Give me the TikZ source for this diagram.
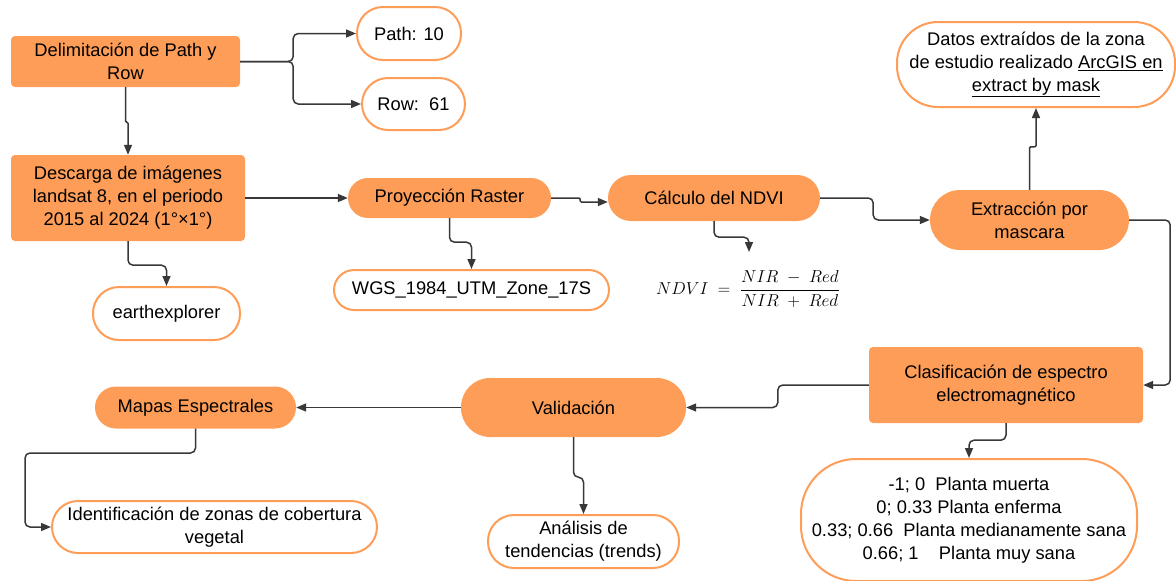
\documentclass[tikz,border=0pt]{standalone}
\usepackage{fontspec}
\setmainfont{Liberation Sans}
\usetikzlibrary{arrows.meta}
\definecolor{boxorange}{HTML}{FE9D57}
\definecolor{linegray}{HTML}{383838}
\tikzset{
  base/.style={font=\fontsize{18.3}{23}\selectfont, align=center, inner sep=2pt, text=black},
  stepbox/.style={base, rectangle, rounded corners=4pt, fill=boxorange},
  steppill/.style={base, rectangle, rounded corners=#1, fill=boxorange},
  outpill/.style={base, rectangle, rounded corners=#1, draw=boxorange, line width=2pt, fill=white},
  link/.style={draw=linegray, line width=1.5pt, rounded corners=5pt, -{Triangle[length=10pt,width=8pt]}},
  jog/.style={rounded corners=1.2pt},
}
\begin{document}
\begin{tikzpicture}[x=1pt, y=-1pt]
    \useasboundingbox (0,0) rectangle (1176,581);

    % Left column
    \node[stepbox, minimum width=229pt, minimum height=51pt] (delim) at (125.5,61.5) {Delimitación de Path y\\Row};
    \node[outpill=26pt, minimum width=104pt, minimum height=53pt] (path) at (409,33.5) {Path: 10};
    \node[outpill=26pt, minimum width=103pt, minimum height=52pt] (row) at (413.5,104) {Row:~~61};
    \node[stepbox, minimum width=234pt, minimum height=86pt] (descarga) at (128,198) {Descarga de imágenes\\landsat 8, en el periodo\\2015 al 2024 (1°×1°)};
    \node[outpill=26pt, minimum width=147pt, minimum height=53pt] (earth) at (166.5,313.5) {earthexplorer};

    % Middle row
    \node[steppill=20pt, minimum width=203pt, minimum height=40pt] (proy) at (449.5,198) {Proyección Raster};
    \node[outpill=20pt, minimum width=275pt, minimum height=40pt] (wgs) at (471.5,290) {WGS\_1984\_UTM\_Zone\_17S};
    \node[steppill=23pt, minimum width=212pt, minimum height=46pt] (ndvi) at (714,198) {Cálculo del NDVI};
    \node[base, font=\fontsize{17}{20}\selectfont] (formula) at (748,289) {$NDVI \;=\; \displaystyle\frac{NIR \;-\; Red}{NIR \;+\; Red}$};
    \coordinate (ndviend) at (749,252);

    % Right column
    \node[steppill=30pt, minimum width=199pt, minimum height=60pt] (extr) at (1029.5,220) {Extracción por\\mascara};
    \node[outpill=41pt, minimum width=278pt, minimum height=85pt] (datos) at (1036,64.5) {Datos extraídos de la zona\\de estudio realizado \underline{ArcGIS en}\\\underline{extract by mask}};
    \node[stepbox, minimum width=274pt, minimum height=76pt] (clasif) at (1006,385) {Clasificación de espectro\\electromagnético};
    \node[outpill=55pt, minimum width=336pt, minimum height=122pt] (rangos) at (969,520) {-1; 0~~Planta muerta\\0; 0.33 Planta enferma\\0.33; 0.66~~Planta medianamente sana\\0.66; 1~~~~Planta muy sana};

    % Bottom row
    \node[steppill=29pt, minimum width=225pt, minimum height=59pt] (valid) at (573.5,407.5) {Validación};
    \node[outpill=26pt, minimum width=191pt, minimum height=53pt] (anal) at (583.5,541.5) {Análisis de\\tendencias (trends)};
    \node[steppill=21pt, minimum width=201pt, minimum height=42pt] (mapas) at (195.5,407.5) {Mapas Espectrales};
    \node[outpill=26pt, minimum width=325pt, minimum height=52pt] (ident) at (214.5,527) {Identificación de zonas de cobertura\\vegetal};
    \coordinate (identin) at (25,453);

    % Connectors
    \draw[link] (delim.east) -- ++(53,0) |- (path.west);
    \draw[link] (delim.east) -- ++(53,0) |- (row.west);
    \draw[link, jog] (delim.south) -- ++(0,35) -| (descarga.north);
    \draw[link] (descarga.east) -- (proy.west);
    \draw[link] (descarga.south) -- ++(0,24) -| (earth.north);
    \draw[link, jog] (proy.east) -- ++(29,0) |- ([yshift=-4pt]ndvi.west);
    \draw[link] (proy.south) -- ++(0,24) -| (wgs.north);
    \draw[link] (ndvi.south) -- ++(0,16) -| (ndviend);
    \draw[link] (ndvi.east) -- ++(53,0) |- (extr.west);
    \draw[link, jog] (extr.north) -- ++(0,-43) -| (datos.south);
    \draw[link] (extr.east) -- ++(41,0) |- (clasif.east);
    \draw[link] (clasif.south) -- ++(0,17) -| (rangos.north);
    \draw[link] (clasif.west) -- ++(-91,0) |- (valid.east);
    \draw[link] (valid.west) -- (mapas.east);
    \draw[link] (valid.south) -- ++(0,40) -| (anal.north);
    \draw[link] (mapas.south) |- (identin) |- (ident.west);
\end{tikzpicture}
\end{document}
